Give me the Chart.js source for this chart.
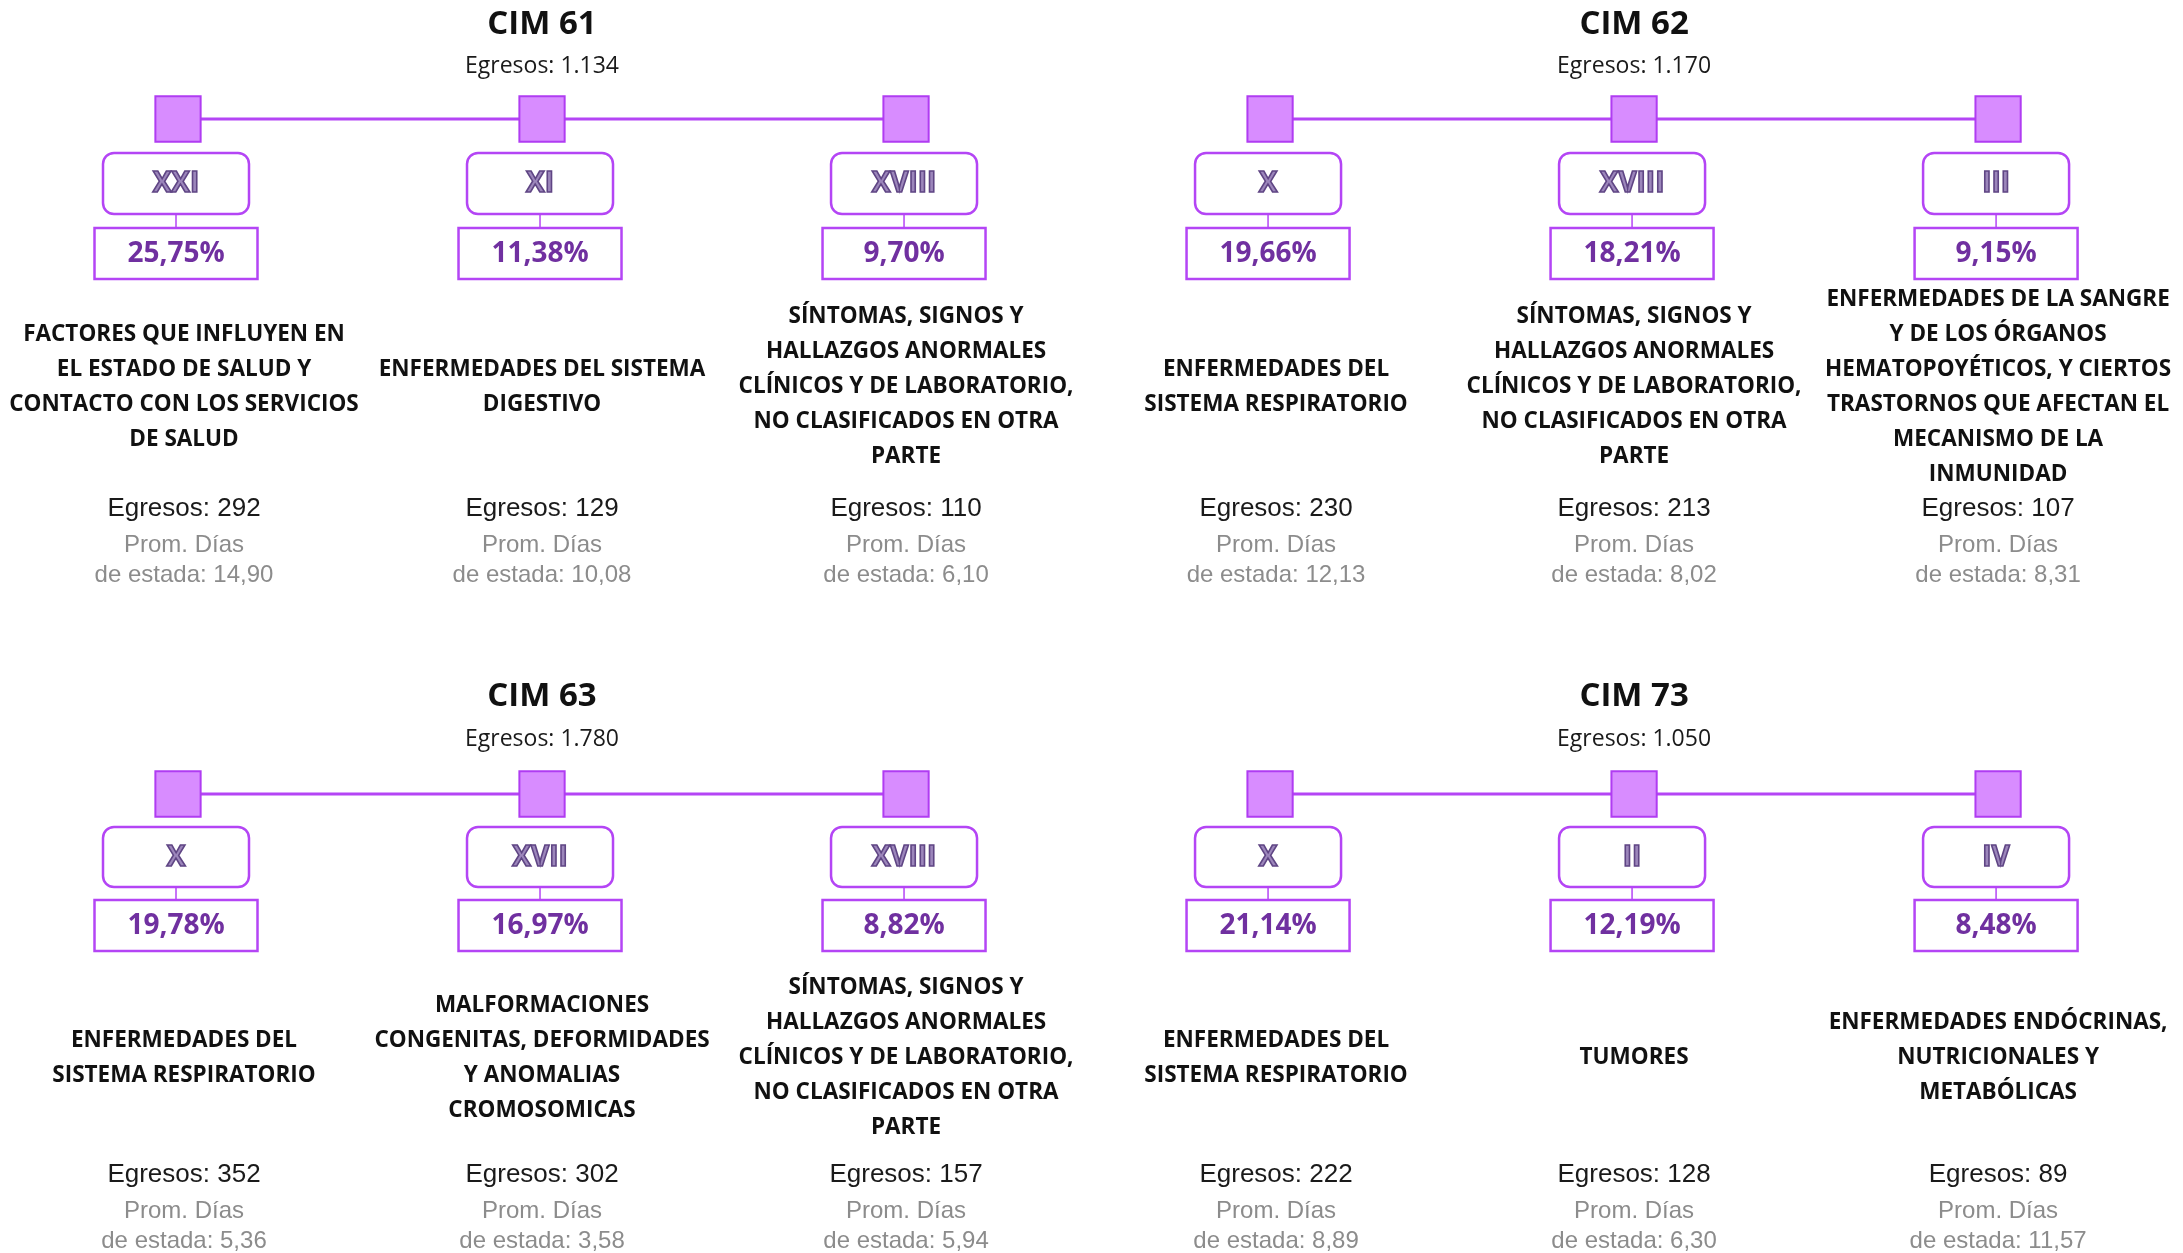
<!DOCTYPE html>
<html lang="es">
<head>
<meta charset="utf-8">
<title>Egresos por CIM</title>
<script src="https://cdn.jsdelivr.net/npm/chart.js@4.4.0/dist/chart.umd.min.js"></script>
<style>
  html, body { margin: 0; padding: 0; background: #fff; }
  #wrap { width: 2183px; height: 1253px; position: relative; }
</style>
</head>
<body>
<div id="wrap"><canvas id="cimChart"></canvas></div>
<script>
// --- datos ---
const grupos = ['CIM 61', 'CIM 62', 'CIM 63', 'CIM 73'];
const egresosGrupo = [1134, 1170, 1780, 1050];

const capitulos = [
    ['XXI', 'XI', 'XVIII'],
    ['X', 'XVIII', 'III'],
    ['X', 'XVII', 'XVIII'],
    ['X', 'II', 'IV']
];
const porcentajes = [
    [25.75, 11.38, 9.70],
    [19.66, 18.21, 9.15],
    [19.78, 16.97, 8.82],
    [21.14, 12.19, 8.48]
];
const egresos = [
    [292, 129, 110],
    [230, 213, 107],
    [352, 302, 157],
    [222, 128, 89]
];
const promDias = [
    [14.90, 10.08, 6.10],
    [12.13, 8.02, 8.31],
    [5.36, 3.58, 5.94],
    [8.89, 6.30, 11.57]
];
const descripciones = [
    [
        ['FACTORES QUE INFLUYEN EN', 'EL ESTADO DE SALUD Y', 'CONTACTO CON LOS SERVICIOS', 'DE SALUD'],
        ['ENFERMEDADES DEL SISTEMA', 'DIGESTIVO'],
        ['SÍNTOMAS, SIGNOS Y', 'HALLAZGOS ANORMALES', 'CLÍNICOS Y DE LABORATORIO,', 'NO CLASIFICADOS EN OTRA', 'PARTE']
    ],
    [
        ['ENFERMEDADES DEL', 'SISTEMA RESPIRATORIO'],
        ['SÍNTOMAS, SIGNOS Y', 'HALLAZGOS ANORMALES', 'CLÍNICOS Y DE LABORATORIO,', 'NO CLASIFICADOS EN OTRA', 'PARTE'],
        ['ENFERMEDADES DE LA SANGRE', 'Y DE LOS ÓRGANOS', 'HEMATOPOYÉTICOS, Y CIERTOS', 'TRASTORNOS QUE AFECTAN EL', 'MECANISMO DE LA', 'INMUNIDAD']
    ],
    [
        ['ENFERMEDADES DEL', 'SISTEMA RESPIRATORIO'],
        ['MALFORMACIONES', 'CONGENITAS, DEFORMIDADES', 'Y ANOMALIAS', 'CROMOSOMICAS'],
        ['SÍNTOMAS, SIGNOS Y', 'HALLAZGOS ANORMALES', 'CLÍNICOS Y DE LABORATORIO,', 'NO CLASIFICADOS EN OTRA', 'PARTE']
    ],
    [
        ['ENFERMEDADES DEL', 'SISTEMA RESPIRATORIO'],
        ['TUMORES'],
        ['ENFERMEDADES ENDÓCRINAS,', 'NUTRICIONALES Y', 'METABÓLICAS']
    ]
];

// --- layout (pixeles relativos a la linea de cuadrados de cada fila) ---
const MORADO = '#b445f5';
const capas = [
    { title: -94.5, sub: -53, romanTop: 34, romanH: 61, pctTop: 109, pctH: 51, desc: 268, foot: [390, 426, 456] },
    { title: -97, sub: -55, romanTop: 33, romanH: 60, pctTop: 106, pctH: 51, desc: 264, foot: [381, 417, 447] }
];
const ajusteTexto = [6, 0, 0];

function miles(n) { return String(n).replace(/\B(?=(\d{3})+(?!\d))/g, '.'); }
function coma(v) { return v.toFixed(2).replace('.', ','); }

function cajaRedonda(ctx, x, y, w, h, r) {
    ctx.beginPath();
    ctx.moveTo(x + r, y);
    ctx.arcTo(x + w, y, x + w, y + h, r);
    ctx.arcTo(x + w, y + h, x, y + h, r);
    ctx.arcTo(x, y + h, x, y, r);
    ctx.arcTo(x, y, x + w, y, r);
    ctx.closePath();
}

const infografia = {
    id: 'infografia',
    afterDatasetsDraw(chart) {
        const ctx = chart.ctx;
        const sx = chart.scales.x, sy = chart.scales.y;
        ctx.save();
        ctx.textAlign = 'center';
        ctx.textBaseline = 'middle';

        grupos.forEach((nombre, g) => {
            const fila = Math.floor(g / 2);
            const base = (g % 2) * 3;
            const L = capas[fila];
            const y0 = sy.getPixelForValue(fila);
            const xc = sx.getPixelForValue(base + 1);

            ctx.fillStyle = '#111';
            ctx.font = 'bold 33px "Open Sans"';
            ctx.fillText(nombre, xc, y0 + L.title);
            ctx.font = '23px "Open Sans"';
            ctx.fillStyle = '#1a1a1a';
            ctx.fillText('Egresos: ' + miles(egresosGrupo[g]), xc, y0 + L.sub);

            capitulos[g].forEach((cap, i) => {
                const x = sx.getPixelForValue(base + i);
                const bx = x - 2;

                // caja del capitulo
                cajaRedonda(ctx, bx - 73, y0 + L.romanTop, 146, L.romanH, 11);
                ctx.fillStyle = '#fff';
                ctx.fill();
                ctx.lineWidth = 2.5;
                ctx.strokeStyle = MORADO;
                ctx.stroke();

                ctx.font = 'bold 28px "Open Sans"';
                ctx.fillStyle = '#9c86bb';
                ctx.fillText(cap, bx, y0 + L.romanTop + L.romanH / 2 + 1);
                ctx.lineWidth = 1.6;
                ctx.strokeStyle = '#5f4584';
                ctx.strokeText(cap, bx, y0 + L.romanTop + L.romanH / 2 + 1);

                // conector
                ctx.beginPath();
                ctx.moveTo(bx, y0 + L.romanTop + L.romanH);
                ctx.lineTo(bx, y0 + L.pctTop);
                ctx.lineWidth = 1.5;
                ctx.strokeStyle = MORADO;
                ctx.stroke();

                // caja del porcentaje
                ctx.lineWidth = 2.5;
                ctx.strokeRect(bx - 81.5, y0 + L.pctTop, 163, L.pctH);
                ctx.font = 'bold 28px "Open Sans"';
                ctx.fillStyle = '#7030a0';
                ctx.fillText(coma(porcentajes[g][i]) + '%', bx, y0 + L.pctTop + L.pctH / 2 + 1);

                // descripcion
                const tx = x + ajusteTexto[i];
                const lineas = descripciones[g][i];
                ctx.font = 'bold 22.5px "Open Sans"';
                ctx.fillStyle = '#111';
                lineas.forEach((t, k) => {
                    ctx.fillText(t, tx, y0 + L.desc + (k - (lineas.length - 1) / 2) * 35);
                });

                // egresos y promedio de dias
                ctx.font = '26px "Liberation Sans", Arial, sans-serif';
                ctx.fillStyle = '#1a1a1a';
                ctx.fillText('Egresos: ' + egresos[g][i], tx, y0 + L.foot[0]);
                ctx.font = '24px "Liberation Sans", Arial, sans-serif';
                ctx.fillStyle = '#8c8c8c';
                ctx.fillText('Prom. Días', tx, y0 + L.foot[1]);
                ctx.fillText('de estada: ' + coma(promDias[g][i]), tx, y0 + L.foot[2]);
            });
        });
        ctx.restore();
    }
};

const datasets = grupos.map((nombre, g) => ({
    label: nombre,
    data: capitulos[g].map((c, i) => ({ x: (g % 2) * 3 + i, y: Math.floor(g / 2) })),
    borderColor: MORADO,
    borderWidth: 3,
    pointStyle: 'rect',
    pointRadius: 32,
    pointBackgroundColor: '#d88cff',
    pointBorderColor: '#b03cf2',
    pointBorderWidth: 2,
    clip: false
}));

new Chart(document.getElementById('cimChart').getContext('2d'), {
    type: 'line',
    data: { datasets },
    options: {
        responsive: true,
        maintainAspectRatio: false,
        animation: false,
        events: [],
        layout: { padding: 0, autoPadding: false },
        plugins: { legend: { display: false }, tooltip: { enabled: false } },
        scales: {
            x: { type: 'linear', min: -0.489, max: 5.508, display: false },
            y: { type: 'linear', reverse: true, min: -0.1763, max: 1.68, display: false }
        }
    },
    plugins: [infografia]
});
</script>
</body>
</html>
